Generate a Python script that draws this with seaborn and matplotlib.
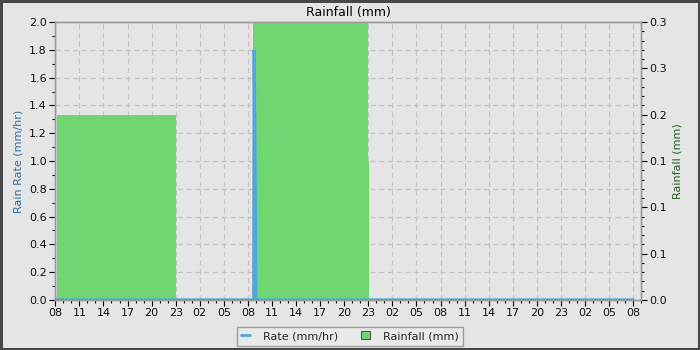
import matplotlib
matplotlib.use("Agg")
import matplotlib.pyplot as plt
import seaborn as sns
import numpy as np
import pandas as pd
from matplotlib.ticker import MultipleLocator, FixedLocator
from matplotlib.lines import Line2D
from matplotlib.patches import Patch

# ---- data (hours since 08:00 on day 1) ----
rate_hours = [0.0, 24.72, 24.78, 24.90, 24.98, 72.0]
rate_values = [0.0, 0.0, 1.8, 0.9, 0.0, 0.0]

rain_left = [0.25, 24.68, 24.68]
rain_width = [14.75, 14.25, 14.42]
rain_mm = [0.2, 0.3, 0.15]

x_tick_hours = list(range(0, 73, 3))
x_tick_labels = ["08", "11", "14", "17", "20", "23", "02", "05", "08",
                 "11", "14", "17", "20", "23", "02", "05", "08",
                 "11", "14", "17", "20", "23", "02", "05", "08"]
left_ticks = [0.0, 0.2, 0.4, 0.6, 0.8, 1.0, 1.2, 1.4, 1.6, 1.8, 2.0]
right_ticks = [0.0, 0.05, 0.10, 0.15, 0.20, 0.25, 0.30]
right_tick_labels = ["0.0", "0.1", "0.1", "0.1", "0.2", "0.3", "0.3"]

BG = "#e5e5e5"
BLUE = "#4ea6dc"
GREEN = "#70d672"

sns.set_theme(style="white")
plt.rcParams["font.family"] = ["DejaVu Sans"]

fig = plt.figure(figsize=(7, 3.5), dpi=100)
fig.patch.set_facecolor(BG)
fig.patch.set_edgecolor("#474747")
fig.patch.set_linewidth(3.6)

ax = fig.add_axes([0.079, 0.143, 0.837, 0.794])
ax.set_facecolor(BG)
ax2 = ax.twinx()

# bars on the right (rainfall) axis
ax2.bar(rain_left, rain_mm, width=rain_width, align="edge", color=GREEN,
        edgecolor="none", linewidth=0, zorder=2)

# rate line, drawn through the left axis scale but layered above the bars
df = pd.DataFrame({"hours": rate_hours, "rate": rate_values})
sns.lineplot(data=df, x="hours", y="rate", ax=ax2, color=BLUE, linewidth=2.3,
             transform=ax.transData, zorder=3, solid_joinstyle="miter")

ax.set_xlim(0, 73)
ax.set_ylim(0, 2.0)
ax2.set_ylim(0, 0.3)

ax.xaxis.set_major_locator(FixedLocator(x_tick_hours))
ax.set_xticklabels(x_tick_labels)
ax.xaxis.set_minor_locator(MultipleLocator(1))
ax.yaxis.set_major_locator(FixedLocator(left_ticks))
ax.set_yticklabels([f"{v:.1f}" for v in left_ticks])
ax.yaxis.set_minor_locator(MultipleLocator(0.1))
ax2.yaxis.set_major_locator(FixedLocator(right_ticks))
ax2.set_yticklabels(right_tick_labels)
ax2.yaxis.set_minor_locator(MultipleLocator(0.01))

for a in (ax, ax2):
    a.tick_params(which="major", direction="out", length=4, width=0.8,
                  color="black", labelsize=8, labelcolor="#111111", pad=2)
    a.tick_params(which="minor", direction="out", length=2, width=0.8,
                  color="black")
    for s in a.spines.values():
        s.set_color("#9a9a9a")
        s.set_linewidth(1.0)
ax.tick_params(axis="y", which="both", left=True)
ax.tick_params(axis="x", which="both", bottom=True)
ax2.tick_params(axis="y", which="both", right=True)

ax.grid(True, which="major", color="#c2c2c2", linestyle=(0, (4, 3)),
        linewidth=0.9)
ax.set_axisbelow(True)

ax.set_xlabel("")
ax2.set_xlabel("")
ax2.set_ylabel("")
ax.set_ylabel("Rain Rate (mm/hr)", color="#2e6f9e", fontsize=8, labelpad=4)
ax2.set_ylabel("Rainfall (mm)", color="#1d621d", fontsize=8, labelpad=4)
ax.set_title("Rainfall (mm)", fontsize=9, color="black", pad=4)

handles = [Line2D([0], [0], color=BLUE, linewidth=2),
           Patch(facecolor=GREEN, edgecolor="#555555", linewidth=0.8)]
leg = fig.legend(handles, ["Rate (mm/hr)", "Rainfall (mm)"], ncol=2,
                 loc="center", bbox_to_anchor=(0.5, 0.04), fontsize=8,
                 frameon=True, fancybox=False, handlelength=0.8,
                 handleheight=0.8, columnspacing=2.0, borderpad=0.4,
                 handletextpad=1.2)
leg.get_frame().set_facecolor("#ebebeb")
leg.get_frame().set_edgecolor("#8a8a8a")
leg.get_frame().set_linewidth(1.0)

fig.savefig("out.png", dpi=100, facecolor=fig.get_facecolor(),
            edgecolor=fig.get_edgecolor())
